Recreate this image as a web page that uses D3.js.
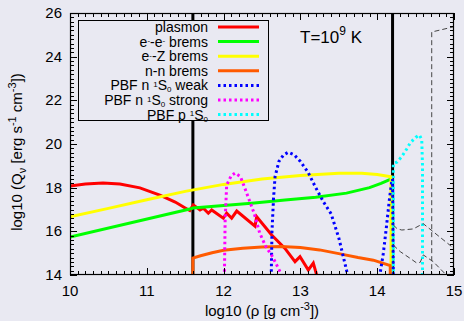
<!DOCTYPE html>
<html><head><meta charset="utf-8">
<script src="https://cdn.jsdelivr.net/npm/d3@7"></script>
<style>
html,body{margin:0;padding:0;background:#e9e9f2;}
svg{display:block;font-family:"Liberation Sans",Arial,sans-serif;}
</style></head><body>
<svg id="c" width="464" height="321"></svg>
<script>
// ---- data (log10 rho, log10 Q) ----
const xTicks = [10, 11, 12, 13, 14, 15];
const yTicks = [14, 16, 18, 20, 22, 24, 26];
const plasmon = [[10,18.08],[10.2,18.17],[10.43,18.21],[10.65,18.17],[10.91,17.99],[11.17,17.66],[11.37,17.34],[11.5,17.07],[11.56,16.95],[11.605,17.21],[11.693,16.98],[11.736,17.06],[11.801,16.83],[11.845,16.98],[11.996,16.6],[12.04,16.83],[12.105,16.6],[12.171,16.93],[12.409,16.24],[12.431,16.67],[12.626,15.83],[12.799,15.22],[12.93,14.61],[12.995,14.84],[13.103,14.23],[13.168,14.54],[13.212,14.0],[13.25,13.8]];
const eeBrems = [[10,15.74],[11.56,17.02],[11.6,17.07],[12.0,17.18],[12.4,17.3],[12.8,17.43],[13.2,17.56],[13.6,17.75],[13.9,18.0],[14.05,18.2],[14.17,18.38],[14.19,18.42]];
const eZBrems = [[10,16.67],[10.5,17.05],[11,17.45],[11.5,17.83],[12,18.15],[12.5,18.4],[13,18.56],[13.5,18.66],[13.8,18.66],[14.0,18.6],[14.18,18.5],[14.18,13.9]];
const nnBrems = [[11.6,13.9],[11.6,14.77],[11.7,14.88],[11.85,15.02],[12.0,15.13],[12.25,15.23],[12.5,15.28],[12.75,15.3],[13.0,15.26],[13.25,15.15],[13.5,14.98],[13.75,14.8],[13.95,14.68],[14.17,14.43],[14.17,13.9]];
const pbfWeak = [[12.62,13.9],[12.63,16],[12.65,17.5],[12.67,18.5],[12.72,19.2],[12.78,19.5],[12.84,19.62],[12.92,19.5],[13.0,19.2],[13.1,18.7],[13.2,18.0],[13.3,17.35],[13.4,16.8],[13.5,15.7],[13.6,14.23],[13.62,13.9]];
const pbfWeak2 = [[14.03,13.9],[14.08,15.0],[14.12,16.2],[14.16,17.5],[14.19,18.3],[14.2,18.4],[14.21,13.9]];
const pbfStrong = [[12.01,13.9],[12.02,16.5],[12.04,18.12],[12.1,18.55],[12.15,18.67],[12.22,18.5],[12.32,17.57],[12.4,16.8],[12.47,15.92],[12.55,15.3],[12.64,14.82],[12.77,13.9]];
const pbfProton = [[14.21,13.9],[14.21,19.1],[14.26,19.18],[14.32,19.42],[14.38,19.75],[14.43,20.05],[14.5,20.3],[14.55,20.41],[14.58,20.2],[14.59,19.0],[14.59,13.9]];
const dashTop = [[14.71,13.9],[14.71,25.13],[15.0,25.37]];
const dashA = [[14.21,16.29],[14.26,16.12],[14.32,16.06],[14.47,16.11],[14.58,16.32],[14.6,16.35],[14.73,15.98],[14.97,15.3],[15.0,15.2]];
const dashB = [[14.21,15.37],[14.3,15.07],[14.43,14.76],[14.51,14.56],[14.56,14.58],[14.6,14.92],[14.73,14.61],[14.9,14.0],[14.93,13.9]];
const vLines = [11.6, 14.2];
const legendLabels = ["plasmon","e⁻-e⁻ brems","e⁻-Z brems","n-n brems","PBF n ¹S₀ weak","PBF n ¹S₀ strong","PBF p ¹S₀"];

const svg = d3.select("#c");
const W = 464, H = 321;
const m = {l:70, r:454, t:13, b:275};
const x = d3.scaleLinear().domain([10,15]).range([m.l, m.r]);
const y = d3.scaleLinear().domain([14,26]).range([m.b, m.t]);

svg.append("rect").attr("width",W).attr("height",H).attr("fill","#e9e9f2");
svg.append("clipPath").attr("id","clip").append("rect")
  .attr("x",m.l).attr("y",m.t).attr("width",m.r-m.l).attr("height",m.b-m.t);

const plot = svg.append("g").attr("clip-path","url(#clip)");
const line = d3.line().x(d=>x(d[0])).y(d=>y(d[1]));

// black vertical lines
vLines.forEach(v=>{
  plot.append("line").attr("x1",x(v)).attr("x2",x(v)).attr("y1",y(26)).attr("y2",y(14))
    .attr("stroke","#000").attr("stroke-width",3);
});

const DOT = "2.5,3";
const series = [
  {d:[plasmon], c:"#ff0000", dash:null},
  {d:[eeBrems], c:"#00ff00", dash:null},
  {d:[eZBrems], c:"#ffff00", dash:null},
  {d:[nnBrems], c:"#ff5a00", dash:null},
  {d:[pbfWeak,pbfWeak2], c:"#0000ff", dash:DOT},
  {d:[pbfStrong], c:"#ff00ff", dash:DOT},
  {d:[pbfProton], c:"#00ffff", dash:DOT}
];
series.forEach(s=>{
  s.d.forEach(arr=>{
    const p = plot.append("path").attr("d",line(arr)).attr("fill","none")
      .attr("stroke",s.c).attr("stroke-width",3);
    if (s.dash) p.attr("stroke-dasharray",s.dash);
  });
});
[dashTop,dashA,dashB].forEach(arr=>{
  plot.append("path").attr("d",line(arr)).attr("fill","none")
    .attr("stroke","#444").attr("stroke-width",1).attr("stroke-dasharray","5,3");
});

// axes frame & ticks
const ax = svg.append("g");
const tickG = ax.append("g").attr("stroke","#000").attr("stroke-width",1);
for (let i=0;i<=50;i++){
  const v = 10 + i*0.1; const px = Math.round(x(v))+0.5;
  const L = (i%10===0)?7:4;
  tickG.append("line").attr("x1",px).attr("x2",px).attr("y1",m.b).attr("y2",m.b-L);
  tickG.append("line").attr("x1",px).attr("x2",px).attr("y1",m.t).attr("y2",m.t+L);
}
for (let i=0;i<=60;i++){
  const v = 14 + i*0.2; const py = Math.round(y(v))+0.5;
  const L = (i%10===0)?7:4;
  tickG.append("line").attr("x1",m.l).attr("x2",m.l+L).attr("y1",py).attr("y2",py);
  tickG.append("line").attr("x1",m.r).attr("x2",m.r-L).attr("y1",py).attr("y2",py);
}
ax.append("rect").attr("x",m.l+0.5).attr("y",m.t+0.5).attr("width",m.r-m.l-1).attr("height",m.b-m.t-1)
  .attr("fill","none").attr("stroke","#000").attr("stroke-width",1.2);

xTicks.forEach(v=>{
  ax.append("text").attr("x",x(v)).attr("y",296).attr("text-anchor","middle")
    .attr("font-size",15).text(v);
});
yTicks.forEach(v=>{
  ax.append("text").attr("x",62).attr("y",y(v)+5).attr("text-anchor","end")
    .attr("font-size",15).text(v);
});

// axis titles
const xt = ax.append("text").attr("x",262).attr("y",316).attr("text-anchor","middle").attr("font-size",15);
xt.append("tspan").text("log10 (ρ [g cm");
xt.append("tspan").attr("dy",-6).attr("font-size",11).text("-3");
xt.append("tspan").attr("dy",6).text("])");

const yt = ax.append("text").attr("transform","translate(22,152) rotate(-90)").attr("text-anchor","middle").attr("font-size",15);
yt.append("tspan").text("log10 (Q");
yt.append("tspan").attr("dy",4).attr("font-size",11).text("ν");
yt.append("tspan").attr("dy",-4).text(" [erg s");
yt.append("tspan").attr("dy",-6).attr("font-size",11).text("-1");
yt.append("tspan").attr("dy",6).text(" cm");
yt.append("tspan").attr("dy",-6).attr("font-size",11).text("-3");
yt.append("tspan").attr("dy",6).text("])");

// T label
const tl = ax.append("text").attr("x",300).attr("y",43).attr("font-size",17);
tl.append("tspan").text("T=10");
tl.append("tspan").attr("dy",-8).attr("font-size",12).text("9");
tl.append("tspan").attr("dy",8).text(" K");

// legend
const lg = svg.append("g");
lg.append("rect").attr("x",78.5).attr("y",20.5).attr("width",190).attr("height",100)
  .attr("fill","#e9e9f2").attr("stroke","#000").attr("stroke-width",1);
const rowY = i => 27 + i*14.6;
function richText(g, txt){
  const parts = [];
  let buf = "";
  for (const ch of txt){
    if (ch==="⁻"||ch==="¹"||ch==="₀"){
      if (buf) parts.push({t:buf,k:0}); buf="";
      parts.push({t: ch==="⁻"?"-":(ch==="¹"?"1":"0"), k: ch==="₀"?-1:1});
    } else buf += ch;
  }
  if (buf) parts.push({t:buf,k:0});
  let cur = 0;
  parts.forEach(p=>{
    const target = p.k===1?-3.5:(p.k===-1?2:0);
    const ts = g.append("tspan").attr("dy",target-cur).text(p.t);
    if (p.k!==0) ts.attr("font-size",8);
    cur = target;
  });
}
series.forEach((s,i)=>{
  const t = lg.append("text").attr("x",208).attr("y",rowY(i)+5).attr("text-anchor","end").attr("font-size",14);
  richText(t, legendLabels[i]);
  const l = lg.append("line").attr("x1",218).attr("x2",259).attr("y1",rowY(i)).attr("y2",rowY(i))
    .attr("stroke",s.c).attr("stroke-width",3);
  if (s.dash) l.attr("stroke-dasharray",s.dash);
});
</script>
</body></html>
